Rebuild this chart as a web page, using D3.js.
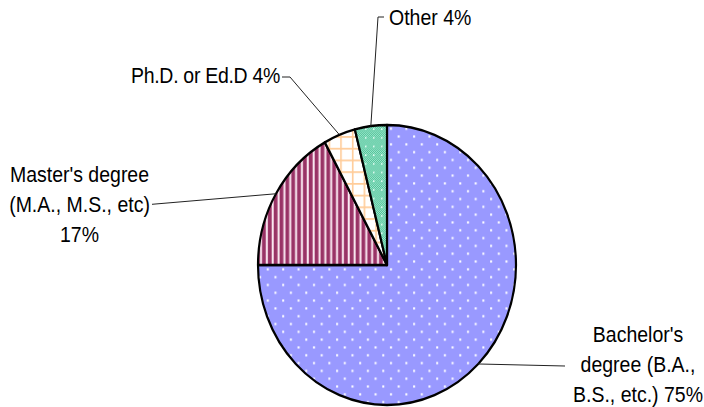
<!DOCTYPE html>
<html>
<head>
<meta charset="utf-8">
<script src="https://cdn.jsdelivr.net/npm/d3@7"></script>
<style>
  html, body { margin: 0; padding: 0; background: #fff; }
  svg { display: block; }
  text { font-family: "Liberation Sans", Arial, sans-serif; font-size: 19.5px; fill: #000; }
</style>
</head>
<body>
<svg id="chart" width="704" height="407"></svg>
<script>
// ---- data ----
const categories = ["Bachelor's degree (B.A., B.S., etc.)", "Master's degree (M.A., M.S., etc)", "Ph.D. or Ed.D", "Other"];
const values = [75, 17, 4, 4];
const labelLines = [
  ["Bachelor's", "degree (B.A.,", "B.S., etc.) 75%"],
  ["Master's degree", "(M.A., M.S., etc)", "17%"],
  ["Ph.D. or Ed.D 4%"],
  ["Other 4%"]
];

// ---- layout ----
const W = 704, H = 407;
const cx = 387, cy = 265, r = 129, sy = 1.085;
const svg = d3.select("#chart");
const defs = svg.append("defs");

// patterns
const pDots = defs.append("pattern").attr("id", "pDots").attr("patternUnits", "userSpaceOnUse")
  .attr("width", 15.4).attr("height", 14.4);
pDots.append("rect").attr("width", 15.4).attr("height", 14.4).attr("fill", "#9999FF");
pDots.append("rect").attr("x", 3).attr("y", 3).attr("width", 2).attr("height", 2).attr("fill", "#FFFFFF");
pDots.append("rect").attr("x", 10.7).attr("y", 10.2).attr("width", 2).attr("height", 2).attr("fill", "#FFFFFF");

const pStripe = defs.append("pattern").attr("id", "pStripe").attr("patternUnits", "userSpaceOnUse")
  .attr("width", 5.85).attr("height", 10);
pStripe.append("rect").attr("width", 5.85).attr("height", 10).attr("fill", "#993366");
pStripe.append("rect").attr("x", 1.6).attr("width", 2.2).attr("height", 10).attr("fill", "#E8B8D0");
pStripe.append("rect").attr("x", 2.2).attr("width", 1.0).attr("height", 10).attr("fill", "#FFFFFF");

const pGrid = defs.append("pattern").attr("id", "pGrid").attr("patternUnits", "userSpaceOnUse")
  .attr("width", 11.7).attr("height", 10.8);
pGrid.append("rect").attr("width", 11.7).attr("height", 10.8).attr("fill", "#FFFFFF");
pGrid.append("rect").attr("x", 0).attr("width", 1.6).attr("height", 10.8).attr("fill", "#FFCC99");
pGrid.append("rect").attr("y", 0).attr("width", 11.7).attr("height", 1.6).attr("fill", "#FFCC99");

const pCheck = defs.append("pattern").attr("id", "pCheck").attr("patternUnits", "userSpaceOnUse")
  .attr("width", 8).attr("height", 8);
pCheck.append("rect").attr("width", 8).attr("height", 8).attr("fill", "#45BE92");
for (let i = 0; i < 8; i += 2) for (let j = 0; j < 8; j += 2) {
  pCheck.append("rect").attr("x", i).attr("y", j).attr("width", 1).attr("height", 1).attr("fill", "#A8EAD2");
  pCheck.append("rect").attr("x", i + 1).attr("y", j + 1).attr("width", 1).attr("height", 1).attr("fill", "#A8EAD2");
}
pCheck.append("rect").attr("x", 2).attr("y", 2).attr("width", 1.5).attr("height", 1.5).attr("fill", "#E6FFF6");

const fills = ["url(#pDots)", "url(#pStripe)", "url(#pGrid)", "url(#pCheck)"];

const pie = d3.pie().sort(null).value(d => d);
const arcs = pie(values);
const arc = d3.arc().innerRadius(0).outerRadius(r);
const edge = d3.arc().innerRadius(r).outerRadius(r);

const g = svg.append("g").attr("transform", `translate(${cx},${cy}) scale(1,${sy})`);
g.selectAll("path.slice").data(arcs).join("path")
  .attr("class", "slice")
  .attr("d", arc)
  .attr("fill", (d, i) => fills[i])
  .attr("stroke", "#000")
  .attr("stroke-width", 2.2)
  .attr("stroke-linejoin", "round");

// label placement (screen coords)
const labelPos = [
  { x: 638, y: 341.7, anchor: "middle", elbow: [565, 366] },
  { x: 79.5, y: 181.7, anchor: "middle", elbow: [152, 204.3] },
  { x: 280, y: 83, anchor: "end", elbow: [290, 77], tip: [282, 77] },
  { x: 389, y: 25, anchor: "start", elbow: [378, 17], tip: [384, 17] }
];
const lineH = 30;

arcs.forEach((d, i) => {
  const c = edge.centroid(d);
  const p0 = [cx + c[0], cy + c[1] * sy];
  const lp = labelPos[i];
  const pts = [p0, lp.elbow];
  if (lp.tip) pts.push(lp.tip);
  svg.append("path")
    .attr("d", d3.line()(pts))
    .attr("fill", "none")
    .attr("stroke", "#222")
    .attr("stroke-width", 1);
  labelLines[i].forEach((t, k) => {
    svg.append("text")
      .attr("transform", `translate(${lp.x},${lp.y + k * lineH}) scale(1,${sy})`)
      .attr("text-anchor", lp.anchor)
      .attr("letter-spacing", i === 2 ? -0.3 : 0)
      .text(t);
  });
});
</script>
</body>
</html>
